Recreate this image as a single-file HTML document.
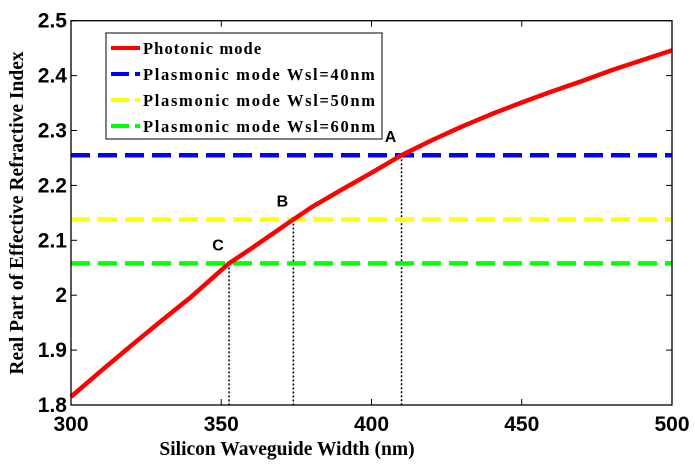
<!DOCTYPE html>
<html><head><meta charset="utf-8"><style>
body{margin:0;background:#fff}
svg{display:block}
text{font-family:"Liberation Sans",sans-serif;font-weight:bold}
.serif{font-family:"Liberation Serif",serif;font-weight:bold}
</style></head><body>
<svg id="chart" width="695" height="464" viewBox="0 0 695 464" xmlns="http://www.w3.org/2000/svg">
<g id="grid"></g>
<g id="series"></g>
<rect x="71" y="20.7" width="601" height="384.3" fill="none" stroke="#000" stroke-width="1.3"/>
<g id="ticks"></g>
<text class="serif" x="287" y="455" font-size="19.5" text-anchor="middle">Silicon Waveguide Width (nm)</text>
<text class="serif" transform="translate(23,213) rotate(-90)" font-size="19.5" text-anchor="middle">Real Part of Effective Refractive Index</text>
<g>
<rect x="106" y="33" width="276" height="106" fill="#fff" stroke="#000" stroke-width="1"/>
<line x1="111" y1="48" x2="140" y2="48" stroke="#f00" stroke-width="4"/>
<text class="serif" x="143" y="54" font-size="16.5" letter-spacing="1.1">Photonic mode</text>
<line x1="111" y1="74" x2="140" y2="74" stroke="#00f" stroke-width="4" stroke-dasharray="18,6"/>
<text class="serif" x="143" y="80" font-size="16.5" letter-spacing="0.2" textLength="232" lengthAdjust="spacing">Plasmonic mode Wsl=40nm</text>
<line x1="111" y1="100" x2="140" y2="100" stroke="#ff0" stroke-width="4" stroke-dasharray="18,6"/>
<text class="serif" x="143" y="106" font-size="16.5" textLength="232" lengthAdjust="spacing">Plasmonic mode Wsl=50nm</text>
<line x1="111" y1="126" x2="140" y2="126" stroke="#0f0" stroke-width="4" stroke-dasharray="18,6"/>
<text class="serif" x="143" y="132" font-size="16.5" textLength="232" lengthAdjust="spacing">Plasmonic mode Wsl=60nm</text>
</g>
</svg>
<script>
const widths=[300,310,320,330,340,352.6,360,374,380,390,400,410,420,430,440,450,460,470,480,490,500];
const photonic=[1.815,1.862,1.908,1.953,1.997,2.058,2.085,2.138,2.160,2.192,2.223,2.255,2.282,2.307,2.330,2.351,2.371,2.390,2.410,2.428,2.446];
const plasmonicLevels=[2.255,2.138,2.058];
const plasmonicColors=["#0000ff","#ffff00","#00ff00"];
const crossX=[410,374,352.6];
const crossLabels=["A","B","C"];
const xTicks=[300,350,400,450,500];
const yTicks=[1.8,1.9,2,2.1,2.2,2.3,2.4,2.5];
const X0=71,X1=672,Y0=405,Y1=20.7;
const xs=v=>X0+(v-300)/200*(X1-X0);
const ys=v=>Y0-(v-1.8)/0.7*(Y0-Y1);
const NS="http://www.w3.org/2000/svg";
const mk=(t,a,p)=>{const e=document.createElementNS(NS,t);for(const k in a)e.setAttribute(k,a[k]);p.appendChild(e);return e;};
const S=document.getElementById('series'),T=document.getElementById('ticks');
plasmonicLevels.forEach((v,i)=>{
  const l=mk('line',{x1:X0,x2:X1,y1:ys(v),y2:ys(v),stroke:plasmonicColors[i],'stroke-width':4.5,'stroke-dasharray':'19,8'},S);
  
  
  const d=mk('line',{x1:xs(crossX[i]),x2:xs(crossX[i]),y1:ys(v),y2:Y0,stroke:'#000','stroke-width':1.5,'stroke-dasharray':'2,2'},S);
  
  
});
const p=mk('polyline',{points:widths.map((w,i)=>xs(w)+','+ys(photonic[i])).join(' '),fill:'none',stroke:'#f00','stroke-width':4.5,'stroke-linejoin':'round'},S);


crossLabels.forEach((c,i)=>{
  const t=mk('text',{x:xs(crossX[i])-11,y:ys(plasmonicLevels[i])-13,'font-size':16,'text-anchor':'middle'},S);
  t.textContent=c;
  
  
});
xTicks.forEach(v=>{
  mk('line',{x1:xs(v),x2:xs(v),y1:Y0,y2:Y0-6,stroke:'#000'},T);
  mk('line',{x1:xs(v),x2:xs(v),y1:Y1,y2:Y1+6,stroke:'#000'},T);
  const t=mk('text',{x:xs(v),y:431,'font-size':21,'text-anchor':'middle'},T);
  t.textContent=v;
  
  
});
yTicks.forEach(v=>{
  mk('line',{x1:X0,x2:X0+6,y1:ys(v),y2:ys(v),stroke:'#000'},T);
  mk('line',{x1:X1,x2:X1-6,y1:ys(v),y2:ys(v),stroke:'#000'},T);
  const t=mk('text',{x:X0-4,y:ys(v)+7,'font-size':21,'text-anchor':'end'},T);
  t.textContent=String(Math.round(v*10)/10);
  
  
});
</script>
</body></html>
